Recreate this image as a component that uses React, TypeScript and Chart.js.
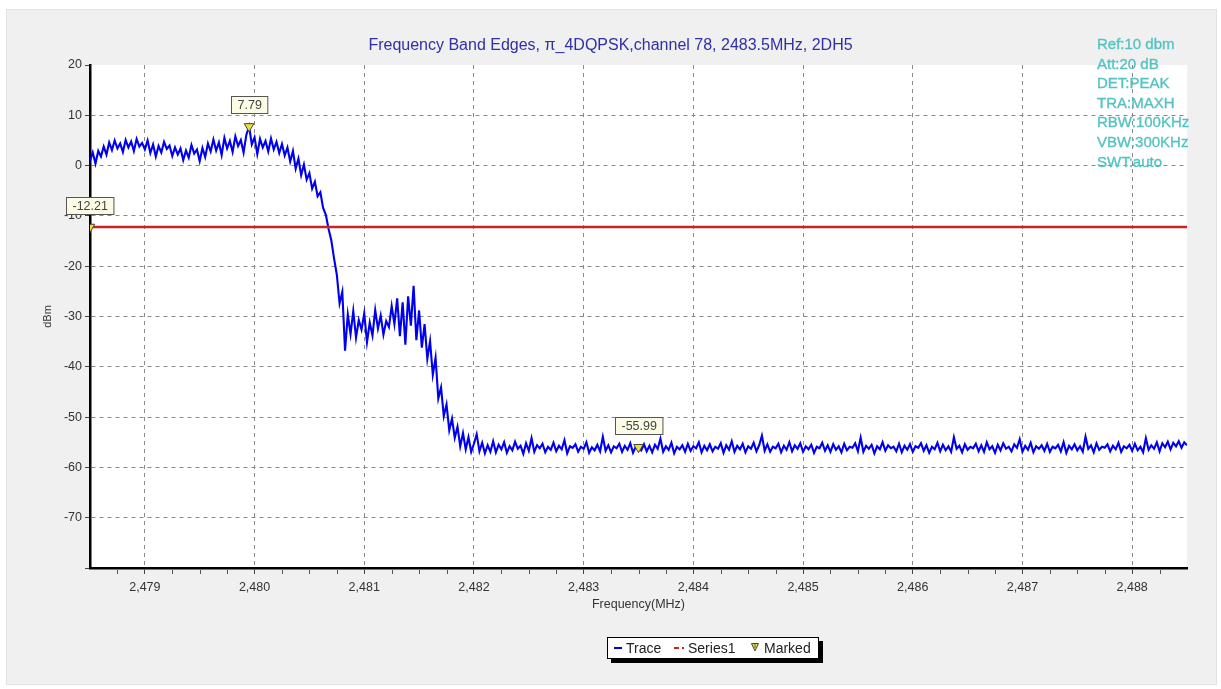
import React, { useEffect, useRef } from "react";
import { Chart, registerables } from "chart.js";

Chart.register(...registerables);

// ---------- data ----------
const TITLE = "Frequency Band Edges, π_4DQPSK,channel 78, 2483.5MHz, 2DH5";
const X_TITLE = "Frequency(MHz)";
const Y_TITLE = "dBm";
const INFO_LINES = ["Ref:10 dbm", "Att:20 dB", "DET:PEAK", "TRA:MAXH", "RBW:100KHz", "VBW:300KHz", "SWT:auto"];

const X_MIN = 2478.5;
const X_MAX = 2488.5;
const Y_MIN = -80;
const Y_MAX = 20;
const X_TICKS = [2479, 2480, 2481, 2482, 2483, 2484, 2485, 2486, 2487, 2488];
const Y_TICKS = [20, 10, 0, -10, -20, -30, -40, -50, -60, -70, -80];
const MINOR_STEP = 0.25;

// sweep grid: start frequency and step (MHz)
const FREQ_START = 2478.5;
const FREQ_STEP = 0.025;

// trace level (dBm), one value per sweep point
const TRACE_DBM = [
  // 2478.500 - 2480.300
  1.0, 2.6, 0.4, 2.9, 1.8, 3.8, 2.2, 4.6, 3.1, 5.0,
  3.4, 4.4, 2.7, 5.1, 3.6, 4.8, 2.9, 5.3, 3.8, 4.5,
  3.2, 5.0, 2.5, 4.2, 1.8, 3.9, 2.6, 4.7, 3.3, 4.0,
  1.9, 3.6, 2.2, 3.4, 1.1, 3.0, 1.6, 4.1, 2.4, 3.2,
  0.9, 3.5, 1.7, 4.4, 2.8, 5.2, 3.0, 4.6, 2.1, 5.5,
  3.4, 4.9, 2.7, 5.8, 3.9, 5.1, 2.6, 6.1, 7.79, 4.2,
  5.6, 2.3, 5.3, 3.6, 4.9, 2.8, 5.4, 3.2, 4.7, 2.5,
  4.3, 2.0, 3.6,
  // 2480.325 - 2482.000
  0.8, 2.9, -0.6, 1.4, -1.9, 0.2, -2.8, -1.5, -4.6, -3.2,
  -6.1, -5.3, -8.4, -9.8, -12.6, -14.9, -18.5, -21.7, -27.4, -25.1,
  -36.8, -29.6, -33.5, -28.9, -34.2, -30.7, -32.6, -29.4, -35.1, -31.2,
  -33.8, -28.7, -32.4, -29.8, -33.6, -30.9, -32.1, -27.9, -31.5, -26.4,
  -33.9, -27.2, -35.6, -26.0, -31.8, -23.9, -34.7, -28.8, -36.2, -31.5,
  -38.4, -34.9, -41.6, -38.2, -46.3, -44.1, -49.8, -47.5, -52.6, -50.3,
  -54.1, -51.9, -55.8, -53.2, -56.4, -54.0, -56.9, -55.3,
  // 2482.025 - 2488.500
  -53.4, -56.8, -55.1, -57.2, -55.6, -56.9, -54.8, -57.0, -55.5, -56.4,
  -55.0, -57.1, -55.8, -56.6, -54.9, -56.3, -55.7, -57.3, -55.2, -56.7,
  -54.2, -56.9, -55.6, -56.2, -55.3, -57.0, -55.9, -56.5, -55.1, -56.8,
  -55.7, -56.4, -54.6, -57.2, -55.8, -56.1, -55.4, -56.9, -55.9, -56.3,
  -55.0, -57.1, -56.0, -56.6, -55.5, -56.8, -53.9, -56.7, -55.6, -57.0,
  -55.8, -56.2, -55.3, -56.9, -55.7, -56.5, -55.2, -57.1, -55.9, -55.99,
  -56.6, -55.4, -56.8, -55.7, -57.0, -55.5, -56.3, -54.3, -56.9, -55.8,
  -56.5, -55.1, -57.2, -55.9, -56.4, -55.6, -56.9, -55.3, -56.7, -55.8,
  -56.2, -55.0, -57.0, -55.7, -56.6, -55.4, -56.8, -55.9, -56.3, -55.2,
  -57.1, -55.6, -56.5, -54.8, -56.9, -55.7, -56.4, -55.3, -57.0, -55.8,
  -56.3, -55.1, -56.8, -55.6, -53.7, -56.7, -55.4, -56.9, -55.9, -56.2,
  -55.3, -57.0, -55.7, -56.5, -55.0, -56.8, -55.6, -56.3, -55.2, -56.9,
  -55.8, -56.4, -55.5, -57.1, -55.9, -56.2, -55.1, -56.7, -55.6, -56.9,
  -55.4, -56.5, -55.8, -57.0, -55.3, -56.6, -55.9, -56.1, -55.2, -56.8,
  -54.1, -56.9, -55.7, -56.3, -55.5, -57.2, -55.8, -56.4, -55.0, -56.7,
  -55.6, -56.2, -55.9, -56.8, -55.3, -57.0, -55.7, -56.5, -55.4, -56.9,
  -55.8, -56.1, -55.2, -56.7, -55.6, -57.1, -55.9, -56.4, -55.1, -56.8,
  -55.5, -56.6, -55.8, -56.9, -54.0, -56.3, -55.7, -57.0, -55.4, -56.5,
  -55.9, -56.2, -55.3, -56.8, -55.6, -56.9, -55.0, -56.4, -55.8, -57.1,
  -55.5, -56.6, -55.2, -56.3, -55.9, -56.8, -55.4, -56.1, -54.4, -56.9,
  -55.7, -56.5, -55.1, -57.0, -55.8, -56.3, -55.6, -56.7, -55.3, -56.9,
  -55.9, -56.2, -55.5, -56.8, -55.0, -57.1, -55.7, -56.4, -55.4, -56.6,
  -55.8, -56.9, -53.9, -56.3, -55.6, -57.0, -55.2, -56.5, -55.9, -56.1,
  -55.4, -56.8, -55.7, -56.4, -55.1, -56.9, -55.8, -56.2, -55.5, -56.7,
  -55.3, -56.6, -55.9, -57.0, -54.2, -56.5, -55.6, -56.3, -55.0, -56.8,
  -55.2, -56.0, -54.9, -56.4, -55.1, -55.8, -54.8, -56.1, -55.0, -55.6,
];

// limit line (Series1)
const LIMIT_DBM = -12.21;

// marked points
const MARKER_FREQ = [2478.5, 2479.95, 2483.5];
const MARKER_DBM = [-12.21, 7.79, -55.99];
const MARKER_LABEL = ["-12.21", "7.79", "-55.99"];

// ---------- styles ----------
const FONT = "'Liberation Sans', Arial, sans-serif";
const TRACE_COLOR = "#0000ee";
const LIMIT_COLOR = "#c82424";
const MARK_FILL = "#eede3a";

const plotBgPlugin = {
  id: "plotBg",
  beforeDraw(chart: any) {
    const { ctx, chartArea } = chart;
    ctx.save();
    ctx.fillStyle = "#ffffff";
    ctx.fillRect(chartArea.left, chartArea.top, chartArea.right - chartArea.left, chartArea.bottom - chartArea.top);
    ctx.restore();
  },
};

const minorTickPlugin = {
  id: "minorTicks",
  afterDraw(chart: any) {
    const { ctx, chartArea } = chart;
    const xs = chart.scales.x;
    ctx.save();
    ctx.strokeStyle = "#555";
    ctx.lineWidth = 1;
    ctx.beginPath();
    for (let v = X_MIN + MINOR_STEP; v < X_MAX; v += MINOR_STEP) {
      if (Math.abs(v - Math.round(v)) < 1e-6) continue;
      const px = Math.round(xs.getPixelForValue(v)) + 0.5;
      ctx.moveTo(px, chartArea.bottom + 2);
      ctx.lineTo(px, chartArea.bottom + 6);
    }
    ctx.stroke();
    ctx.restore();
  },
};

const markerLabelPlugin = {
  id: "markerLabels",
  afterDatasetsDraw(chart: any) {
    const { ctx } = chart;
    const xs = chart.scales.x;
    const ys = chart.scales.y;
    ctx.save();
    ctx.font = `12.5px ${FONT}`;
    ctx.textAlign = "center";
    ctx.textBaseline = "middle";
    for (let i = 0; i < MARKER_LABEL.length; i++) {
      const px = xs.getPixelForValue(MARKER_FREQ[i]);
      const py = ys.getPixelForValue(MARKER_DBM[i]);
      const w = ctx.measureText(MARKER_LABEL[i]).width + 12;
      const h = 17;
      const bx = Math.round(px - w / 2) + 0.5;
      const by = Math.round(py - 13 - h) + 0.5;
      ctx.fillStyle = "#fbfbe6";
      ctx.fillRect(bx, by, w, h);
      ctx.strokeStyle = "#555";
      ctx.lineWidth = 1;
      ctx.strokeRect(bx, by, w, h);
      ctx.fillStyle = "#444";
      ctx.fillText(MARKER_LABEL[i], bx + w / 2, by + h / 2 + 0.5);
    }
    ctx.restore();
  },
};

export default function App() {
  const canvasRef = useRef<HTMLCanvasElement | null>(null);

  useEffect(() => {
    if (!canvasRef.current) return;
    const traceData = TRACE_DBM.map((v, i) => ({ x: FREQ_START + i * FREQ_STEP, y: v }));
    const limitData = [
      { x: X_MIN, y: LIMIT_DBM },
      { x: X_MAX, y: LIMIT_DBM },
    ];
    const markData = MARKER_FREQ.map((f, i) => ({ x: f, y: MARKER_DBM[i] }));

    const chart = new Chart(canvasRef.current, {
      type: "line",
      data: {
        datasets: [
          {
            label: "Marked",
            data: markData,
            showLine: false,
            pointStyle: "triangle",
            rotation: 180,
            pointRadius: 5.5,
            pointBackgroundColor: MARK_FILL,
            pointBorderColor: "#444",
            pointBorderWidth: 1,
          },
          {
            label: "Series1",
            data: limitData,
            borderColor: LIMIT_COLOR,
            borderWidth: 2.5,
            pointRadius: 0,
          },
          {
            label: "Trace",
            data: traceData,
            borderColor: TRACE_COLOR,
            borderWidth: 2.1,
            pointRadius: 0,
            tension: 0,
          },
        ],
      },
      options: {
        responsive: false,
        animation: false,
        events: [],
        layout: { padding: { top: 65, right: 34, left: 0, bottom: 0 } },
        plugins: {
          legend: { display: false },
          title: { display: false },
          tooltip: { enabled: false },
        },
        scales: {
          x: {
            type: "linear",
            min: X_MIN,
            max: X_MAX,
            afterBuildTicks: (scale: any) => {
              scale.ticks = X_TICKS.map((v) => ({ value: v }));
            },
            afterFit: (scale: any) => {
              scale.height = 689 - 568;
            },
            ticks: {
              autoSkip: false,
              maxRotation: 0,
              padding: 6,
              color: "#333",
              font: { family: FONT, size: 12.5 },
              callback: (v: any) => Number(v).toLocaleString("en-US"),
            },
            grid: {
              color: "#8a8a8a",
              lineWidth: 1,
              tickColor: "#444",
              tickLength: 6,
              tickBorderDash: [],
            },
            border: { display: true, color: "#000", width: 2.5, dash: [4, 4] },
            title: {
              display: true,
              text: X_TITLE,
              color: "#333",
              font: { family: FONT, size: 12.5 },
              padding: { top: 0, bottom: 77 },
            },
          },
          y: {
            type: "linear",
            min: Y_MIN,
            max: Y_MAX,
            afterBuildTicks: (scale: any) => {
              scale.ticks = Y_TICKS.map((v) => ({ value: v }));
            },
            afterFit: (scale: any) => {
              scale.width = 90;
            },
            ticks: {
              autoSkip: false,
              padding: 3,
              color: "#333",
              font: { family: FONT, size: 12.5 },
              callback: (v: any) => (Number(v) === Y_MIN ? "" : String(v)),
            },
            grid: {
              color: (ctx: any) =>
                ctx.tick && (ctx.tick.value === Y_MAX || ctx.tick.value === Y_MIN) ? "rgba(0,0,0,0)" : "#8a8a8a",
              lineWidth: 1,
              tickColor: "#444",
              tickLength: 5,
              tickBorderDash: [],
            },
            border: { display: true, color: "#000", width: 2.5, dash: [4, 4] },
            title: {
              display: true,
              text: Y_TITLE,
              color: "#333",
              font: { family: FONT, size: 11 },
              padding: { top: 41, bottom: 0 },
            },
          },
        },
      },
      plugins: [plotBgPlugin, minorTickPlugin, markerLabelPlugin],
    } as any);

    return () => chart.destroy();
  }, []);

  return (
    <div style={{ position: "absolute", left: 0, top: 0, width: 1221, height: 689, background: "#ffffff", overflow: "hidden", fontFamily: FONT }}>
      <div
        style={{
          position: "absolute",
          left: 6,
          top: 9,
          width: 1209,
          height: 674,
          background: "#f0f0f0",
          border: "1px solid #e2e2e2",
        }}
      />
      <canvas ref={canvasRef} width={1221} height={689} style={{ position: "absolute", left: 0, top: 0, width: 1221, height: 689 }} />
      <div
        style={{
          position: "absolute",
          left: 0,
          width: 1221,
          top: 35,
          textAlign: "center",
          fontSize: 16,
          color: "#2f2fa6",
          lineHeight: "20px",
          whiteSpace: "nowrap",
        }}
      >
        {TITLE}
      </div>
      <div style={{ position: "absolute", left: 1097, top: 34 }}>
        {INFO_LINES.map((t, i) => (
          <div
            key={i}
            style={{
              fontSize: 15,
              lineHeight: "19.6px",
              color: "#55c2c2",
              whiteSpace: "nowrap",
              WebkitTextStroke: "0.35px #55c2c2",
            }}
          >
            {t}
          </div>
        ))}
      </div>
      <div
        style={{
          position: "absolute",
          left: 607,
          top: 637,
          width: 210,
          height: 20,
          background: "#fff",
          border: "1px solid #000",
          boxShadow: "4px 4px 0 #000",
          fontSize: 14,
          lineHeight: "16px",
          color: "#222",
        }}
      >
        <div style={{ position: "absolute", left: 6, top: 9, width: 8, height: 1.5, background: TRACE_COLOR }} />
        <span style={{ position: "absolute", left: 18, top: 2 }}>Trace</span>
        <div style={{ position: "absolute", left: 66, top: 9, width: 5, height: 2, background: LIMIT_COLOR }} />
        <div style={{ position: "absolute", left: 74, top: 9, width: 2, height: 2, background: LIMIT_COLOR }} />
        <span style={{ position: "absolute", left: 80, top: 2 }}>Series1</span>
        <svg style={{ position: "absolute", left: 143, top: 5 }} width={8} height={9} viewBox="0 0 8 9">
          <polygon points="0.5,0.5 7.5,0.5 4,8" fill={MARK_FILL} stroke="#444" strokeWidth={1} />
          <line x1={4} y1={0.5} x2={4} y2={5} stroke="#444" strokeWidth={0.8} />
        </svg>
        <span style={{ position: "absolute", left: 156, top: 2 }}>Marked</span>
      </div>
    </div>
  );
}
